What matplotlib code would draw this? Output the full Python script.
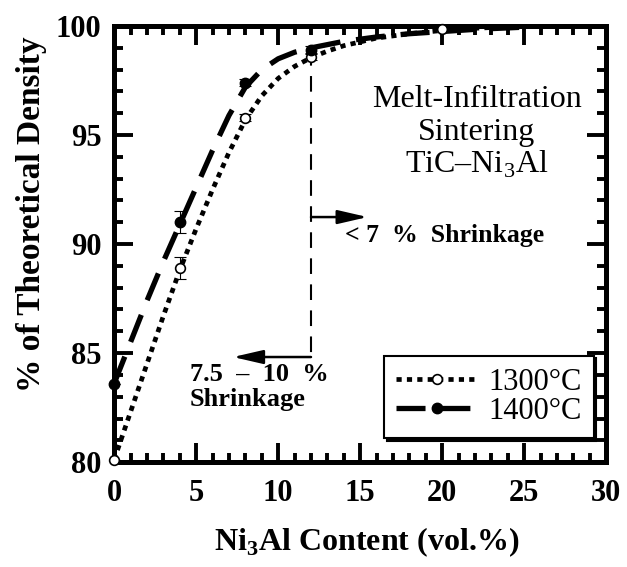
import matplotlib
matplotlib.use("Agg")
import matplotlib.pyplot as plt
from matplotlib.lines import Line2D

plt.rcParams["font.family"] = ["Liberation Serif", "DejaVu Serif"]
plt.rcParams["mathtext.fontset"] = "custom"
plt.rcParams["mathtext.rm"] = "Liberation Serif"
plt.rcParams["mathtext.bf"] = "Liberation Serif:bold"

# measured densities (% of theoretical) vs Ni3Al content (vol.%)
x_1300 = [0, 4, 8, 12, 20]
y_1300 = [80.1, 88.9, 95.8, 98.6, 99.85]
err_1300 = [0.0, 0.5, 0.15, 0.15, 0.0]

x_1400 = [0, 4, 8, 12]
y_1400 = [83.6, 91.0, 97.4, 98.9]
err_1400 = [0.0, 0.5, 0.15, 0.2]

# fitted curves
fit_x_1300 = [0, 1, 2, 3, 4, 5, 6, 7, 8, 9, 10, 11, 12, 13, 14, 16, 18, 20, 22, 25]
fit_y_1300 = [80.1, 82.3, 84.5, 86.7, 88.8, 90.7, 92.5, 94.2, 95.7, 96.8, 97.6, 98.15,
              98.55, 98.85, 99.1, 99.45, 99.65, 99.8, 99.9, 100.0]
fit_x_1400 = [0, 1, 2, 3, 4, 5, 6, 7, 8, 9, 10, 11, 12, 14, 16, 18, 20, 22, 25]
fit_y_1400 = [83.6, 85.5, 87.4, 89.2, 90.9, 92.6, 94.3, 95.9, 97.2, 98.0, 98.5, 98.8,
              99.0, 99.3, 99.5, 99.65, 99.75, 99.85, 99.95]

boundary_x = 12
labels = ["1300°C", "1400°C"]

fig = plt.figure(figsize=(6.27, 5.67), dpi=100)
ax = fig.add_axes([0.182, 0.185, 0.785, 0.769])

dot_style = (0, (1.1, 1.1))
dash_style = (0, (5.5, 3.0))

ax.plot(fit_x_1300, fit_y_1300, color="black", lw=3.4, ls=dot_style, zorder=2)
ax.plot(fit_x_1400, fit_y_1400, color="black", lw=3.8, ls=dash_style, zorder=2)

ax.errorbar(x_1300, y_1300, yerr=err_1300, fmt="none", ecolor="black",
            elinewidth=0.8, capsize=4, capthick=0.8, zorder=3)
ax.errorbar(x_1400, y_1400, yerr=err_1400, fmt="none", ecolor="black",
            elinewidth=0.8, capsize=4, capthick=0.8, zorder=3)
ax.plot(x_1300, y_1300, "o", ms=7, mfc="white", mec="black", mew=1.2,
        zorder=4, clip_on=False)
ax.plot(x_1400, y_1400, "o", ms=7.5, mfc="black", mec="black",
        zorder=4, clip_on=False)

# shrinkage boundary and arrows
arrow_hi_y = 91.24
arrow_lo_y = 84.82
arrow_props = dict(arrowstyle="-|>,head_length=1.3,head_width=0.3",
                   color="black", lw=1.8, shrinkA=0, shrinkB=0, mutation_scale=14)
ax.plot([boundary_x, boundary_x], [98.9, arrow_lo_y], color="black", lw=1.5,
        ls=(0, (7.5, 5)), zorder=1)
ax.annotate("", xy=(15.45, arrow_hi_y), xytext=(boundary_x, arrow_hi_y),
            arrowprops=arrow_props)
ax.annotate("", xy=(7.25, arrow_lo_y), xytext=(boundary_x, arrow_lo_y),
            arrowprops=arrow_props)
ax.text(14.1, 90.4, "< 7  %  Shrinkage", fontsize=18.5, fontweight="bold",
        ha="left", va="center")
ax.text(4.6, 84.0, "7.5  –  10  %", fontsize=19, fontweight="bold",
        ha="left", va="center")
ax.text(4.6, 82.85, "Shrinkage", fontsize=19, fontweight="bold",
        ha="left", va="center")

ax.text(22.1, 96.28, "Melt-Infiltration", fontsize=23, ha="center", va="baseline")
ax.text(22.1, 94.77, "Sintering", fontsize=23, ha="center", va="baseline")
ax.text(22.1, 93.30, "TiC–Ni$_3$Al", fontsize=23, ha="center", va="baseline")

ax.set_xlim(0, 30)
ax.set_ylim(80, 100)
ax.set_xticks(range(0, 31, 5))
ax.set_xticks(range(0, 31, 1), minor=True)
ax.set_yticks(range(80, 101, 5))
ax.set_yticks(range(80, 101, 1), minor=True)
ax.tick_params(which="both", direction="in", top=True, right=True, width=2.8,
               labelsize=22)
ax.tick_params(which="major", length=14)
ax.tick_params(which="minor", length=6.5)
ax.tick_params(axis="x", pad=12)
ax.tick_params(axis="y", pad=9)
for lab in ax.get_xticklabels() + ax.get_yticklabels():
    lab.set_fontweight("bold")
for sp in ax.spines.values():
    sp.set_linewidth(3.6)

ax.set_xlabel(r"Ni$_\mathbf{3}$Al Content (vol.%)", fontsize=23, fontweight="bold")
ax.set_ylabel("% of Theoretical Density", fontsize=24, fontweight="bold")
ax.xaxis.set_label_coords(0.514, -0.145)
ax.yaxis.set_label_coords(-0.137, 0.569)

handles = [
    Line2D([], [], color="black", lw=3.4, ls=dot_style, marker="o", ms=7,
           mfc="white", mec="black", mew=1.2),
    Line2D([], [], color="black", lw=3.8, ls=dash_style, marker="o", ms=7.5,
           mfc="black", mec="black"),
]
leg = ax.legend(handles, labels, loc="lower right", bbox_to_anchor=(0.974, 0.055),
                borderaxespad=0, fontsize=22, handlelength=2.7, handletextpad=0.3,
                borderpad=0.4, labelspacing=0.0, numpoints=1, fancybox=False,
                framealpha=1, edgecolor="black",
                shadow={"color": "black", "alpha": 1})
leg.get_frame().set_linewidth(1.5)

fig.savefig("out.png", dpi=100)
